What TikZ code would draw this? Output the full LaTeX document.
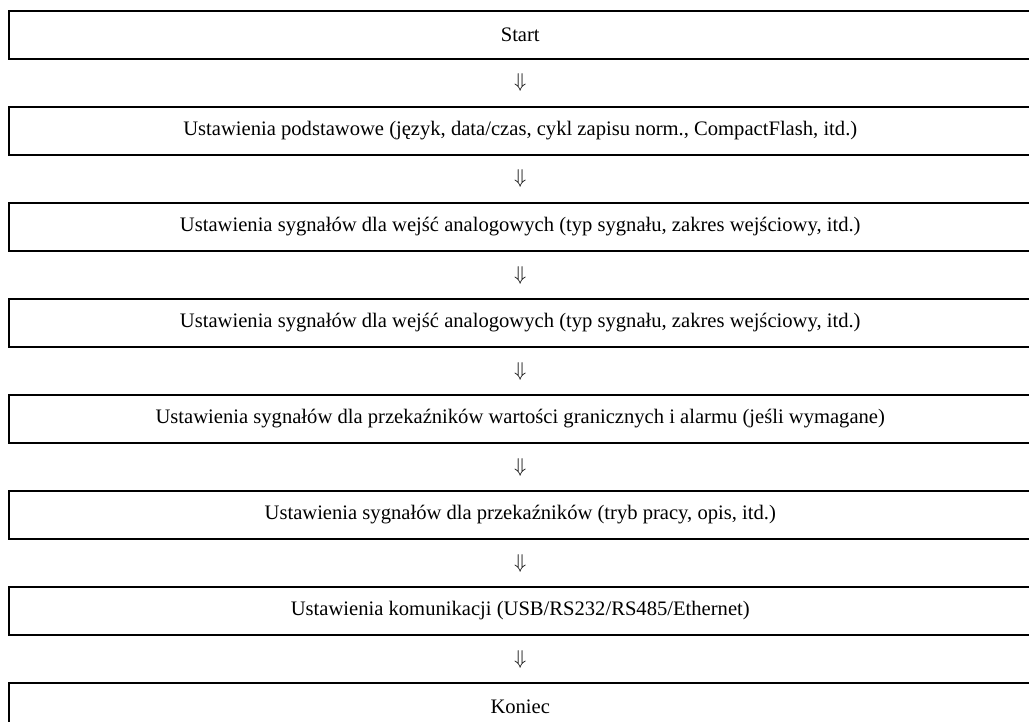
\documentclass[tikz,border=0pt]{standalone}
\usepackage{fontspec}
\setmainfont{Liberation Serif}
\usetikzlibrary{positioning}

\begin{document}
\begin{tikzpicture}[x=1pt,y=1pt,
  every node/.style={inner sep=0pt,outer sep=0pt,font=\fontsize{10.3}{12}\selectfont},
  stepbox/.style={draw=black,line width=1pt,minimum width=511.75pt,minimum height=24pt},
  downsign/.style={minimum width=511.75pt,minimum height=24pt}]
\useasboundingbox (0,0) rectangle (514.5,-361);
\clip (0,0) rectangle (514.5,-361);
\node[stepbox,anchor=north west] (start) at (4.25,-5.5) {Start};
\node[downsign,below=0pt of start] (d1) {$\Downarrow$};
\node[stepbox,below=0pt of d1] (basic) {Ustawienia podstawowe (język, data/czas, cykl zapisu norm., CompactFlash, itd.)};
\node[downsign,below=0pt of basic] (d2) {$\Downarrow$};
\node[stepbox,below=0pt of d2] (analogA) {Ustawienia sygnałów dla wejść analogowych (typ sygnału, zakres wejściowy, itd.)};
\node[downsign,below=0pt of analogA] (d3) {$\Downarrow$};
\node[stepbox,below=0pt of d3] (analogB) {Ustawienia sygnałów dla wejść analogowych (typ sygnału, zakres wejściowy, itd.)};
\node[downsign,below=0pt of analogB] (d4) {$\Downarrow$};
\node[stepbox,below=0pt of d4] (limits) {Ustawienia sygnałów dla przekaźników wartości granicznych i alarmu (jeśli wymagane)};
\node[downsign,below=0pt of limits] (d5) {$\Downarrow$};
\node[stepbox,below=0pt of d5] (relays) {Ustawienia sygnałów dla przekaźników (tryb pracy, opis, itd.)};
\node[downsign,below=0pt of relays] (d6) {$\Downarrow$};
\node[stepbox,below=0pt of d6] (comm) {Ustawienia komunikacji (USB/RS232/RS485/Ethernet)};
\node[downsign,below=0pt of comm] (d7) {$\Downarrow$};
\node[stepbox,below=0pt of d7] (stop) {Koniec};
\end{tikzpicture}
\end{document}
